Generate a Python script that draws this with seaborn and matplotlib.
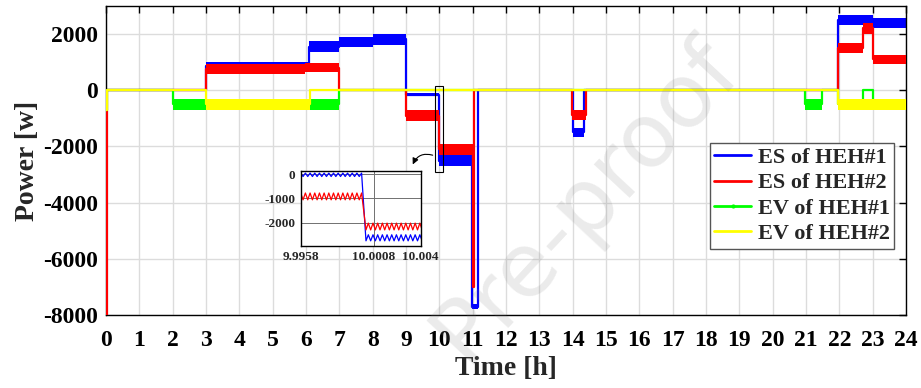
import matplotlib
matplotlib.use("Agg")
import matplotlib.pyplot as plt
from matplotlib.lines import Line2D
from matplotlib.patches import Rectangle
import seaborn as sns
import pandas as pd

# Step breakpoints [h], mean level [W] and ripple half-width [W] per segment
es1_t = [0, 3, 6.1, 7, 8, 9, 10, 10.98, 11.15, 14.0, 14.35, 21.95, 23, 24]
es1_mid = [0, 870, 1555, 1726, 1820, -150, -2500, -7700, 0, -1500, 0, 2500, 2400, 2400]
es1_hw = [0, 130, 200, 180, 200, 50, 200, 100, 0, 170, 0, 190, 170, 170]

es2_t = [0, 0.02, 3, 5.98, 7, 9, 10, 11.0, 11.03, 13.97, 14.4, 21.95, 22.7, 23, 24]
es2_mid = [-8000, 0, 760, 800, 0, -900, -2100, -7000, 0, -870, 0, 1500, 2200, 1100, 1100]
es2_hw = [0, 0, 170, 160, 0, 190, 200, 0, 0, 170, 0, 170, 180, 170, 170]

ev1_t = [0, 0.02, 2, 7, 20.97, 21.47, 21.95, 22.7, 23, 24]
ev1_mid = [-700, 0, -500, 0, -500, 0, -500, 0, -500, -500]
ev1_hw = [0, 0, 200, 0, 200, 0, 200, 0, 200, 200]

ev2_t = [0, 0.02, 3, 6.12, 21.95, 24]
ev2_mid = [-700, 0, -500, 0, -500, -500]
ev2_hw = [0, 0, 190, 0, 190, 190]

# zoomed window around t = 10 h
inset_t = [
    9.99580, 9.99596, 9.99612, 9.99628, 9.99644, 9.99660, 9.99676, 9.99692, 9.99708,
    9.99724, 9.99740, 9.99756, 9.99772, 9.99788, 9.99804, 9.99820, 9.99836, 9.99852,
    9.99868, 9.99884, 9.99900, 9.99916, 9.99932, 9.99948, 9.99964, 9.99980, 9.99996,
    10.00026, 10.00042, 10.00058, 10.00074, 10.00090, 10.00106, 10.00122, 10.00138,
    10.00154, 10.00170, 10.00186, 10.00202, 10.00218, 10.00234, 10.00250, 10.00266,
    10.00282, 10.00298, 10.00314, 10.00330, 10.00346, 10.00362, 10.00378, 10.00394,
    10.00410,
]
inset_es1 = [
    40, -100, 40, -100, 40, -100, 40, -100, 40, -100, 40, -100, 40, -100,
    40, -100, 40, -100, 40, -100, 40, -100, 40, -100, 40, -100, 40,
    -2750, -2500, -2750, -2500, -2750, -2500, -2750, -2500, -2750, -2500, -2750, -2500,
    -2750, -2500, -2750, -2500, -2750, -2500, -2750, -2500, -2750, -2500, -2750, -2500,
    -2750,
]
inset_es2 = [
    -780, -1060, -780, -1060, -780, -1060, -780, -1060, -780, -1060, -780, -1060, -780,
    -1060, -780, -1060, -780, -1060, -780, -1060, -780, -1060, -780, -1060, -780, -1060,
    -780,
    -2300, -2020, -2300, -2020, -2300, -2020, -2300, -2020, -2300, -2020, -2300, -2020,
    -2300, -2020, -2300, -2020, -2300, -2020, -2300, -2020, -2300, -2020, -2300, -2020,
    -2300,
]

x_ticks = list(range(0, 25))
y_ticks = [-8000, -6000, -4000, -2000, 0, 2000]
inset_xticks = [9.9958, 10.0008, 10.004]
inset_xlabels = ["9.9958", "10.0008", "10.004"]
inset_yticks = [0, -1000, -2000]

series = [
    ("ES of HEH#1", es1_t, es1_mid, es1_hw, "#0000ff"),
    ("ES of HEH#2", es2_t, es2_mid, es2_hw, "#ff0000"),
    ("EV of HEH#1", ev1_t, ev1_mid, ev1_hw, "#00ff00"),
    ("EV of HEH#2", ev2_t, ev2_mid, ev2_hw, "#ffff00"),
]

sns.set_style("whitegrid")
plt.rcParams["font.family"] = ["Liberation Serif", "DejaVu Serif"]
plt.rcParams["font.weight"] = "bold"
plt.rcParams["axes.unicode_minus"] = False

fig = plt.figure(figsize=(9.21, 3.88), dpi=100)
ax = fig.add_axes([0.1151, 0.188, 0.8686, 0.7965])

for i, (name, t, mid, hw, color) in enumerate(series):
    df = pd.DataFrame({"t": t, "mid": mid, "hw": hw})
    lo = df["mid"] - df["hw"]
    hi = df["mid"] + df["hw"]
    ax.fill_between(df["t"], lo, hi, step="post", color=color, lw=0, zorder=2 + i)
    sns.lineplot(data=df, x="t", y="mid", ax=ax, color=color, lw=1.6,
                 drawstyle="steps-post", estimator=None, sort=False, zorder=2 + i)

ax.set_xlim(0, 24)
ax.set_ylim(-8000, 3000)
ax.set_xticks(x_ticks)
ax.set_xticklabels([str(v) for v in x_ticks], fontsize=17, fontweight="bold")
ax.set_yticks(y_ticks)
ax.set_yticklabels([str(v) for v in y_ticks], fontsize=17, fontweight="bold")
ax.tick_params(direction="in", top=True, right=True, length=5, width=1, pad=6,
               colors="black")
ax.tick_params(axis="x", pad=11)
ax.grid(True, color="#dcdcdc", lw=1)
for s in ax.spines.values():
    s.set_color("black")
    s.set_linewidth(1)
ax.set_xlabel("Time [h]", fontsize=20, fontweight="bold", labelpad=3)
ax.set_ylabel("Power [w]", fontsize=20, fontweight="bold", labelpad=2)

handles = [
    Line2D([], [], color="#0000ff", lw=2),
    Line2D([], [], color="#ff0000", lw=2),
    Line2D([], [], color="#00ff00", lw=2, marker=".", markersize=4),
    Line2D([], [], color="#ffff00", lw=2),
]
leg = ax.legend(handles, [s[0] for s in series], loc="upper right",
                bbox_to_anchor=(0.985, 0.557), borderaxespad=0, fancybox=False,
                framealpha=1, edgecolor="#555555", handlelength=1.65,
                handletextpad=0.3, labelspacing=0.22, borderpad=0.2,
                prop={"weight": "bold", "size": 16})
leg.get_frame().set_linewidth(1)
leg.set_zorder(10)

# zoom box and inset
ax.add_patch(Rectangle((9.88, -2900), 0.24, 3060, fill=False, ec="black", lw=0.8,
                       zorder=8))
ax.annotate("", xy=(411.7 / 921, 1 - 167 / 388), xycoords="figure fraction",
            xytext=(9.88, -2340), textcoords="data",
            arrowprops=dict(arrowstyle="-|>", connectionstyle="arc3,rad=0.5",
                            color="black", lw=0.8, mutation_scale=9), zorder=9)

ax_in = fig.add_axes([0.3265, 0.3668, 0.1303, 0.1933])
ax_in.set_facecolor("white")
ax_in.plot(inset_t, inset_es1, color="#0000ff", lw=0.9)
ax_in.plot(inset_t, inset_es2, color="#ff0000", lw=0.9)
ax_in.set_xlim(9.9958, 10.004)
ax_in.set_ylim(-2950, 140)
ax_in.set_xticks(inset_xticks)
ax_in.set_xticklabels(inset_xlabels, fontsize=9.5, fontweight="bold")
ax_in.set_yticks(inset_yticks)
ax_in.set_yticklabels([str(v) for v in inset_yticks], fontsize=9.5, fontweight="bold")
ax_in.tick_params(length=0, pad=4)
ax_in.grid(True, color="#707070", lw=0.7)
for s in ax_in.spines.values():
    s.set_color("black")
    s.set_linewidth(1)

# journal watermark
fig.text(585 / 921, 1 - 200 / 388, "Pre-proof", fontsize=64, family="DejaVu Sans",
         fontweight="normal", color="grey", alpha=0.16, rotation=47,
         ha="center", va="center", zorder=20)

fig.savefig("out.png", dpi=100)
